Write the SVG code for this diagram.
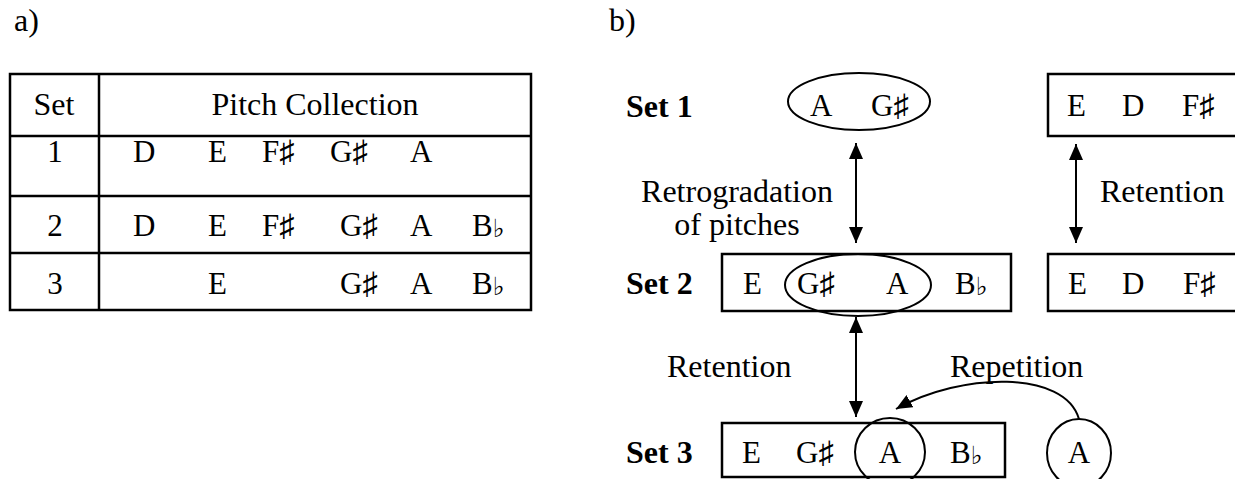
<svg xmlns="http://www.w3.org/2000/svg" width="1235" height="479" viewBox="0 0 1235 479">
<style>
text{font-family:"Liberation Serif","DejaVu Serif",serif;font-size:31px;fill:#000}
.lbl{font-size:32px}
.b{font-weight:bold;font-size:32px}
.m{text-anchor:middle}
.box{fill:none;stroke:#000;stroke-width:2.5}
.ov{fill:none;stroke:#000;stroke-width:2}
.ln{fill:none;stroke:#000;stroke-width:2.5}
.fl{font-size:25px}
</style>
<defs>
<marker id="ah" viewBox="0 0 16 14" refX="16" refY="7" markerWidth="16" markerHeight="14" markerUnits="userSpaceOnUse" orient="auto-start-reverse">
<path d="M0,0 L16,7 L0,14 z" fill="#000"/>
</marker>
</defs>
<text x="14" y="31" class="lbl">a)</text>
<text x="609" y="31" class="lbl">b)</text>
<g id="table">
<rect x="10" y="74" width="521" height="236" class="box"/>
<line x1="99" y1="74" x2="99" y2="310" class="ln"/>
<line x1="10" y1="136" x2="531" y2="136" class="ln"/>
<line x1="10" y1="196" x2="531" y2="196" class="ln"/>
<line x1="10" y1="253" x2="531" y2="253" class="ln"/>
<text x="54" y="115" class="lbl m">Set</text>
<text x="315" y="115" class="lbl m">Pitch Collection</text>
<text x="55" y="162" class="m">1</text>
<text x="133" y="162">D</text>
<text x="208" y="162">E</text>
<text x="262" y="162">F♯</text>
<text x="330" y="162">G♯</text>
<text x="410" y="162">A</text>
<text x="55" y="236" class="m">2</text>
<text x="133" y="236">D</text>
<text x="208" y="236">E</text>
<text x="262" y="236">F♯</text>
<text x="340" y="236">G♯</text>
<text x="410" y="236">A</text>
<text x="472" y="236">B<tspan class="fl" dy="1">♭</tspan></text>
<text x="55" y="294" class="m">3</text>
<text x="208" y="294">E</text>
<text x="340" y="294">G♯</text>
<text x="410" y="294">A</text>
<text x="472" y="294">B<tspan class="fl" dy="1">♭</tspan></text>
</g>
<g id="set1-label"><text x="626" y="117" class="b">Set 1</text></g>
<g id="set1-ret">
<ellipse cx="859" cy="101.5" rx="71" ry="28.5" class="ov"/>
<text x="810" y="116">A</text>
<text x="871" y="116">G♯</text>
</g>
<g id="set1-box">
<rect x="1048" y="74" width="200" height="62" class="box"/>
<text x="1067" y="116">E</text>
<text x="1122" y="116">D</text>
<text x="1182" y="116">F♯</text>
</g>
<g id="set2-label"><text x="626" y="294" class="b">Set 2</text></g>
<g id="set2-box">
<rect x="722" y="254" width="289" height="57" class="box"/>
<text x="743" y="294">E</text>
<text x="797" y="294">G♯</text>
<text x="886" y="294">A</text>
<text x="955" y="294">B<tspan class="fl" dy="1">♭</tspan></text>
<ellipse cx="858" cy="285" rx="73" ry="31" class="ov"/>
</g>
<g id="set2-right">
<rect x="1048" y="254" width="200" height="57" class="box"/>
<text x="1068" y="294">E</text>
<text x="1122" y="294">D</text>
<text x="1183" y="294">F♯</text>
</g>
<g id="set3-label"><text x="626" y="463" class="b">Set 3</text></g>
<g id="set3-box">
<rect x="722" y="423" width="283" height="54" class="box"/>
<text x="742" y="463">E</text>
<text x="796" y="463">G♯</text>
<text x="890" y="463" class="m">A</text>
<text x="950" y="463">B<tspan class="fl" dy="1">♭</tspan></text>
<ellipse cx="890" cy="452" rx="35" ry="34" class="ov"/>
</g>
<g id="set3-rep">
<ellipse cx="1079" cy="453" rx="32" ry="34" class="ov"/>
<text x="1079" y="463" class="m">A</text>
</g>
<g id="connectors">
<line x1="856" y1="143" x2="856" y2="243" stroke="#000" stroke-width="2" marker-start="url(#ah)" marker-end="url(#ah)"/>
<line x1="1076" y1="144" x2="1076" y2="243" stroke="#000" stroke-width="2" marker-start="url(#ah)" marker-end="url(#ah)"/>
<line x1="856" y1="317" x2="856" y2="417" stroke="#000" stroke-width="2" marker-start="url(#ah)" marker-end="url(#ah)"/>
<path d="M1079,419 C1065,370 962,372 896,409" fill="none" stroke="#000" stroke-width="2" marker-end="url(#ah)"/>
</g>
<g id="labels">
<text x="737" y="202" class="lbl m">Retrogradation</text>
<text x="737" y="235" class="lbl m">of pitches</text>
<text x="1100" y="202" class="lbl">Retention</text>
<text x="667" y="377" class="lbl">Retention</text>
<text x="950" y="377" class="lbl">Repetition</text>
</g>
</svg>
